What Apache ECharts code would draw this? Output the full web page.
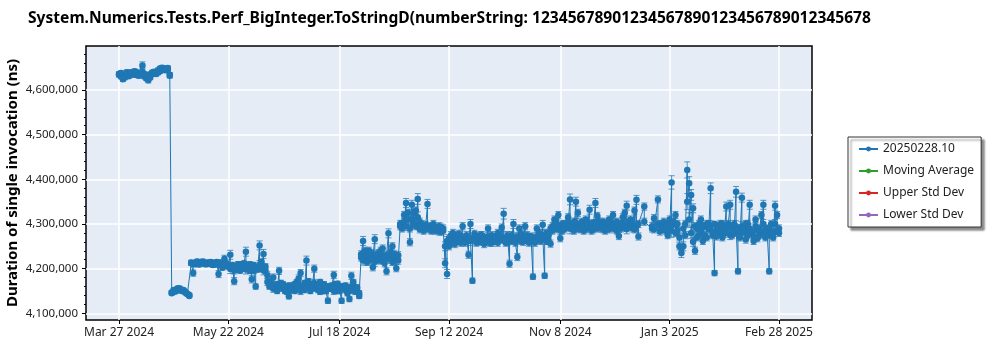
<!DOCTYPE html>
<html><head><meta charset="utf-8">
<script src="https://cdn.jsdelivr.net/npm/echarts@6/dist/echarts.min.js"></script>
<style>html,body{margin:0;padding:0;background:#fff}#chart{width:1000px;height:350px}</style>
</head><body><div id="chart"></div>
<script>
const titleText = 'System.Numerics.Tests.Perf_BigInteger.ToStringD(numberString: 12345678901234567890123456789012345678';
const yAxisTitle = 'Duration of single invocation (ns)';
const seriesNames = ['20250228.10', 'Moving Average', 'Upper Std Dev', 'Lower Std Dev'];
const seriesColors = ['#1f77b4', '#2ca02c', '#d62728', '#9467bd'];

const xTickDates = ['2024-03-27', '2024-05-22', '2024-07-18', '2024-09-12', '2024-11-08', '2025-01-03', '2025-02-28'];
const xTickLabels = ['Mar 27 2024', 'May 22 2024', 'Jul 18 2024', 'Sep 12 2024', 'Nov 8 2024', 'Jan 3 2025', 'Feb 28 2025'];
const yTickValues = [4100000, 4200000, 4300000, 4400000, 4500000, 4600000];
const yMinorTickValues = [4120000, 4140000, 4160000, 4180000, 4220000, 4240000, 4260000, 4280000,
  4320000, 4340000, 4360000, 4380000, 4420000, 4440000, 4460000, 4480000,
  4520000, 4540000, 4560000, 4580000, 4620000, 4640000, 4660000, 4680000];
const yRange = [4085000, 4698500];

const dates = [
  '2024-03-27','2024-03-28','2024-03-29','2024-03-30','2024-03-31',
  '2024-04-01','2024-04-02','2024-04-03','2024-04-04','2024-04-05','2024-04-06','2024-04-07','2024-04-08','2024-04-09','2024-04-10',
  '2024-04-11','2024-04-12','2024-04-13','2024-04-14','2024-04-15','2024-04-16','2024-04-17','2024-04-18','2024-04-19','2024-04-20',
  '2024-04-21','2024-04-22','2024-04-23','2024-04-24','2024-04-25','2024-04-26','2024-04-27','2024-04-28','2024-04-29','2024-04-30',
  '2024-05-01','2024-05-02','2024-05-03','2024-05-04','2024-05-05','2024-05-06','2024-05-07','2024-05-08','2024-05-09','2024-05-10',
  '2024-05-11','2024-05-12','2024-05-13','2024-05-14','2024-05-15','2024-05-16','2024-05-17','2024-05-18','2024-05-19','2024-05-20',
  '2024-05-21','2024-05-22','2024-05-23','2024-05-24','2024-05-25','2024-05-26','2024-05-27','2024-05-28','2024-05-29','2024-05-30',
  '2024-05-31',
  '2024-06-01','2024-06-02','2024-06-03','2024-06-04','2024-06-05','2024-06-06','2024-06-07','2024-06-08','2024-06-09','2024-06-10',
  '2024-06-11','2024-06-12','2024-06-13','2024-06-14','2024-06-15','2024-06-16','2024-06-17','2024-06-18','2024-06-19','2024-06-20',
  '2024-06-21','2024-06-22','2024-06-23','2024-06-24','2024-06-25','2024-06-26','2024-06-27','2024-06-28','2024-06-29','2024-06-30',
  '2024-07-01','2024-07-02','2024-07-03','2024-07-04','2024-07-05','2024-07-06','2024-07-07','2024-07-08','2024-07-09','2024-07-10',
  '2024-07-11','2024-07-12','2024-07-13','2024-07-14','2024-07-15','2024-07-16','2024-07-17','2024-07-18','2024-07-19','2024-07-20',
  '2024-07-21','2024-07-22','2024-07-23','2024-07-24','2024-07-25','2024-07-26','2024-07-27','2024-07-28','2024-07-29','2024-07-30',
  '2024-07-31',
  '2024-08-01','2024-08-02','2024-08-03','2024-08-04','2024-08-05','2024-08-06','2024-08-07','2024-08-08','2024-08-09','2024-08-10',
  '2024-08-11','2024-08-12','2024-08-13','2024-08-14','2024-08-15','2024-08-16','2024-08-17','2024-08-18','2024-08-19','2024-08-20',
  '2024-08-21','2024-08-22','2024-08-23','2024-08-24','2024-08-25','2024-08-26','2024-08-27','2024-08-28','2024-08-29','2024-08-30',
  '2024-08-31',
  '2024-09-01','2024-09-02','2024-09-03','2024-09-04','2024-09-05','2024-09-06','2024-09-07','2024-09-08','2024-09-09','2024-09-10',
  '2024-09-11','2024-09-12','2024-09-13','2024-09-14','2024-09-15','2024-09-16','2024-09-17','2024-09-18','2024-09-19','2024-09-20',
  '2024-09-21','2024-09-22','2024-09-23','2024-09-24','2024-09-25','2024-09-26','2024-09-27','2024-09-28','2024-09-29','2024-09-30',
  '2024-10-01','2024-10-02','2024-10-03','2024-10-04','2024-10-05','2024-10-06','2024-10-07','2024-10-08','2024-10-09','2024-10-10',
  '2024-10-11','2024-10-12','2024-10-13','2024-10-14','2024-10-15','2024-10-16','2024-10-17','2024-10-18','2024-10-19','2024-10-20',
  '2024-10-21','2024-10-22','2024-10-23','2024-10-24','2024-10-25','2024-10-26','2024-10-27','2024-10-28','2024-10-29','2024-10-30',
  '2024-10-31',
  '2024-11-01','2024-11-02','2024-11-03','2024-11-04','2024-11-05','2024-11-06','2024-11-07','2024-11-08','2024-11-09','2024-11-10',
  '2024-11-11','2024-11-12','2024-11-13','2024-11-14','2024-11-15','2024-11-16','2024-11-17','2024-11-18','2024-11-19','2024-11-20',
  '2024-11-21','2024-11-22','2024-11-23','2024-11-24','2024-11-25','2024-11-26','2024-11-27','2024-11-28','2024-11-29','2024-11-30',
  '2024-12-01','2024-12-02','2024-12-03','2024-12-04','2024-12-05','2024-12-06','2024-12-07','2024-12-08','2024-12-09','2024-12-10',
  '2024-12-11','2024-12-12','2024-12-13','2024-12-14','2024-12-15','2024-12-16','2024-12-17','2024-12-18',
  '2024-12-21','2024-12-25','2024-12-26','2024-12-28','2024-12-29','2024-12-30','2024-12-31',
  '2025-01-01','2025-01-02','2025-01-03','2025-01-04','2025-01-05','2025-01-06','2025-01-07','2025-01-08','2025-01-09','2025-01-10',
  '2025-01-11','2025-01-12','2025-01-13','2025-01-14','2025-01-15','2025-01-16','2025-01-17','2025-01-18','2025-01-19','2025-01-20',
  '2025-01-21','2025-01-22','2025-01-23','2025-01-24','2025-01-25','2025-01-26','2025-01-27','2025-01-28','2025-01-29','2025-01-30',
  '2025-01-31',
  '2025-02-01','2025-02-02','2025-02-03','2025-02-04','2025-02-05','2025-02-06','2025-02-07','2025-02-08','2025-02-09','2025-02-10',
  '2025-02-11','2025-02-12','2025-02-13','2025-02-14','2025-02-15','2025-02-16','2025-02-17','2025-02-18','2025-02-19','2025-02-20',
  '2025-02-21','2025-02-22','2025-02-23','2025-02-24','2025-02-25','2025-02-26','2025-02-27','2025-02-28'
];

// first run of each day: mean duration of one invocation, in thousands of ns
const durationsK = [
  4636,4630,4624,4632,4636,
  4638,4634,4640,4642,4635,4632,4638,4655,4630,4626, 4622,4635,4636,4637,4640,4644,4648,4646,4645,4647, 4646,4634,4145,4148,4151,4154,4156,4153,4150,4148,
  4143,4141,4212,4190,4213,4214,4212,4215,4214,4212, 4210,4214,4212,4208,4212,4215,4188,4210,4205,4222, 4208,4206,4231,4200,4172,4205,4198,4203,4210,4200, 4238,
  4206,4195,4176,4208,4160,4202,4252,4215,4233,4195, 4185,4170,4162,4180,4158,4165,4195,4160,4165,4150, 4155,4138,4158,4162,4150,4170,4178,4190,4160,4168,
  4218,4172,4155,4165,4200,4160,4152,4170,4162,4150, 4158,4128,4160,4155,4186,4165,4150,4158,4128,4160, 4152,4145,4132,4184,4170,4155,4150,4139,4225,4262, 4230,
  4215,4240,4222,4203,4266,4228,4235,4218,4245,4225, 4194,4279,4230,4250,4222,4201,4230,4295,4300,4320, 4347,4310,4259,4343,4325,4330,4356,4305,4300,4290, 4298,
  4345,4292,4288,4295,4285,4290,4283,4292,4285,4212, 4188,4250,4262,4280,4255,4270,4265,4258,4295,4262, 4270,4231,4300,4173,4265,4272,4260,4275,4262,4255,
  4268,4290,4265,4258,4270,4262,4280,4268,4292,4323, 4265,4260,4211,4275,4300,4268,4226,4290,4262,4270, 4295,4265,4258,4272,4182,4268,4290,4265,4270,4298, 4184,
  4262,4275,4256,4295,4310,4290,4320,4268,4300,4288, 4295,4315,4355,4292,4305,4350,4325,4290,4298,4285, 4310,4295,4332,4300,4288,4347,4318,4295,4290,4305,
  4285,4298,4310,4292,4320,4300,4285,4273,4300,4315, 4325,4341,4295,4310,4290,4330,4354,4272, 4339,4290,4313,4355,4283,4300,4292,
  4295,4275,4310,4393,4300,4320,4285,4270,4235,4250, 4300,4421,4391,4365,4335,4240,4290,4275,4310,4262, 4295,4270,4300,4380,4275,4190,4280,4285,4300,4270, 4290,
  4339,4295,4343,4275,4300,4372,4194,4280,4359,4290, 4265,4300,4343,4282,4262,4310,4285,4275,4320,4343, 4270,4290,4194,4300,4280,4341,4320,4280
];

// second run of each day, in thousands of ns
const durations2K = [
  4634,4638,4633,4628,4640,
  4631,4639,4636,4634,4640,4637,4633,4641,4636,4633, 4630,4628,4639,4641,4636,4639,4642,4650,4648,4644, 4649,4632,4147,4152,4149,4156,4153,4150,4152,4146,
  4144,4139,4214,4211,4210,4216,4209,4213,4216,4210, 4213,4211,4215,4212,4209,4213,4211,4214,4202,4209, 4212,4204,4199,4208,4196,4200,4210,4195,4204,4212, 4198,
  4200,4210,4205,4195,4203,4198,4208,4200,4196,4205, 4170,4160,4168,4155,4163,4150,4162,4168,4155,4160, 4148,4162,4152,4158,4165,4155,4162,4150,4158,4152,
  4160,4165,4150,4158,4168,4155,4162,4148,4158,4165, 4150,4160,4155,4162,4150,4158,4166,4150,4160,4155, 4162,4150,4158,4152,4160,4148,4158,4145,4232,4218, 4240,
  4228,4218,4235,4225,4215,4232,4220,4240,4228,4212, 4230,4222,4238,4215,4232,4226,4218,4300,4290,4305, 4295,4325,4290,4310,4300,4295,4315,4288,4295,4285, 4292,
  4290,4295,4285,4300,4292,4288,4295,4283,4290,4250, 4262,4268,4275,4258,4270,4262,4278,4265,4270,4258, 4275,4265,4262,4268,4278,4258,4270,4262,4275,4268,
  4260,4272,4258,4275,4262,4270,4258,4275,4265,4270, 4258,4275,4268,4262,4270,4258,4272,4265,4278,4260, 4268,4275,4262,4270,4265,4258,4272,4280,4262,4275, 4268,
  4280,4262,4290,4285,4298,4302,4288,4295,4285,4300, 4292,4302,4290,4298,4285,4302,4292,4288,4305,4295, 4288,4300,4292,4285,4302,4295,4290,4305,4298,4288,
  4300,4290,4288,4302,4295,4288,4305,4295,4290,4300, 4292,4288,4305,4295,4300,4288,4295,4300, 4305,4295,4288,4300,4295,4288,4305,
  4285,4300,4290,4285,4305,4280,4300,4250,4245,4290, 4275,4350,4310,4280,4260,4295,4270,4300,4285,4295, 4275,4300,4288,4295,4282,4300,4272,4295,4280,4300, 4278,
  4285,4300,4275,4292,4280,4295,4285,4270,4295,4282, 4300,4275,4290,4280,4272,4295,4268,4290,4280,4300, 4285,4275,4290,4280,4270,4300,4285,4290
];

// half-width of the error bar of each day, in thousands of ns
const errorsK = [
  5,5,5,5,5,
  5,5,5,5,5,5,5,8,5,5, 6,5,5,5,5,5,5,5,5,5, 5,5,4,4,4,4,4,4,4,4,
  4,4,5,7,5,5,5,5,5,5, 5,5,5,5,5,5,8,5,5,8, 5,5,10,6,8,5,6,5,6,5, 10,
  6,6,8,6,6,6,10,6,10,6, 8,6,6,8,6,6,8,6,6,6, 6,6,6,6,6,6,8,8,6,6,
  10,6,6,6,8,6,6,6,6,6, 6,6,6,6,8,6,6,6,6,6, 6,6,6,8,6,6,6,6,8,10, 8,
  8,8,8,8,10,8,8,8,8,8, 8,10,8,8,8,8,8,8,8,8, 10,8,8,10,8,8,12,8,8,8, 8,
  10,8,8,8,8,8,8,8,8,10, 10,8,8,8,8,8,8,8,8,8, 8,8,10,6,8,8,8,8,8,8,
  8,8,8,8,8,8,8,8,8,12, 8,8,8,8,10,8,8,8,8,8, 8,8,8,8,6,8,8,8,8,10, 6,
  8,8,8,8,8,8,8,8,8,8, 8,8,12,8,8,10,8,8,8,8, 8,8,10,8,8,10,8,8,8,8,
  8,8,8,8,8,8,8,8,8,8, 8,10,8,8,8,8,10,8, 8,8,8,8,8,8,8,
  8,8,8,15,8,8,8,8,10,10, 8,18,15,12,10,8,8,8,8,8, 8,8,8,12,8,6,8,8,8,8, 8,
  10,8,10,8,8,12,6,8,10,8, 8,8,10,8,8,8,8,8,8,10, 8,8,6,8,8,10,8,8
];

function parseLocal(s) { const p = s.split('-').map(Number); return new Date(p[0], p[1] - 1, p[2]).getTime(); }

if (dates.length !== durationsK.length || dates.length !== errorsK.length || dates.length !== durations2K.length)
  console.error('length mismatch', dates.length, durationsK.length, durations2K.length, errorsK.length);

const times = dates.map(parseLocal);
const points = [], bars = [];
times.forEach((t, i) => {
  [durationsK[i], durations2K[i]].forEach(v => {
    points.push([t, v * 1000]);
    bars.push([t, (v - errorsK[i]) * 1000, (v + errorsK[i]) * 1000]);
  });
});
const tFirst = times[0], tLast = times[times.length - 1];
const pad = (tLast - tFirst) * 0.05;
const xTickTimes = xTickDates.map(parseLocal);

const chart = echarts.init(document.getElementById('chart'), null, { renderer: 'canvas' });
const font = 'Noto Sans';
chart.setOption({
  animation: false,
  backgroundColor: '#ffffff',
  textStyle: { fontFamily: font },
  title: {
    text: titleText, left: 23, top: 6,
    textStyle: { fontFamily: font, fontSize: 15.6, fontWeight: 'bold', color: '#000' }
  },
  legend: {
    data: seriesNames, orient: 'vertical', left: 848, top: 137,
    itemWidth: 19, itemHeight: 6, itemGap: 10,
    padding: [6, 7, 6, 10],
    backgroundColor: '#ffffff', borderColor: '#333', borderWidth: 1, borderRadius: 0,
    shadowColor: 'rgba(0,0,0,0.45)', shadowBlur: 2, shadowOffsetX: 3, shadowOffsetY: 3,
    textStyle: { fontFamily: font, fontSize: 12, color: '#222' }
  },
  grid: {
    left: 86, right: 188, top: 46, bottom: 30, outerBoundsMode: 'none', containLabel: false,
    show: true, backgroundColor: '#e5ecf6', borderColor: '#000', borderWidth: 1.5
  },
  xAxis: {
    type: 'value', min: tFirst - pad, max: tLast + pad,
    axisLine: { show: false },
    axisTick: { show: true, customValues: xTickTimes, length: 4, lineStyle: { color: '#000' } },
    axisLabel: {
      customValues: xTickTimes, fontSize: 12, color: '#222', margin: 7, fontFamily: font,
      formatter: v => { const i = xTickTimes.indexOf(v); return i >= 0 ? xTickLabels[i] : ''; }
    },
    splitLine: { show: true, lineStyle: { color: '#ffffff', width: 1.5 } }
  },
  yAxis: [{
    type: 'value', min: yRange[0], max: yRange[1],
    name: yAxisTitle, nameLocation: 'middle', nameGap: 65.5, nameRotate: 90, nameMoveOverlap: false,
    nameTextStyle: { fontFamily: font, fontSize: 15, fontWeight: 'bold', color: '#000' },
    axisLine: { show: false },
    axisTick: { show: true, customValues: yTickValues, length: 4, lineStyle: { color: '#000' } },
    axisLabel: { customValues: yTickValues, fontSize: 11.5, color: '#222', margin: 8, fontFamily: font,
      formatter: v => v.toLocaleString('en-US') },
    splitLine: { show: true, lineStyle: { color: '#ffffff', width: 1.5 } }
  }, {
    type: 'value', min: yRange[0], max: yRange[1], position: 'left', offset: 0,
    axisLine: { show: false }, axisLabel: { show: false }, splitLine: { show: false },
    axisTick: { show: true, customValues: yMinorTickValues, length: 2, lineStyle: { color: '#000' } }
  }],
  series: [
    {
      name: 'errorbars', type: 'custom', data: bars, z: 2, silent: true,
      encode: { x: 0, y: [1, 2] },
      renderItem: (params, api) => {
        const x = api.value(0);
        const lo = api.coord([x, api.value(1)]);
        const hi = api.coord([x, api.value(2)]);
        const hw = 3;
        const st = { stroke: seriesColors[0], lineWidth: 1, opacity: 0.75 };
        return { type: 'group', children: [
          { type: 'line', shape: { x1: lo[0], y1: lo[1], x2: hi[0], y2: hi[1] }, style: st },
          { type: 'line', shape: { x1: lo[0] - hw, y1: lo[1], x2: lo[0] + hw, y2: lo[1] }, style: st },
          { type: 'line', shape: { x1: hi[0] - hw, y1: hi[1], x2: hi[0] + hw, y2: hi[1] }, style: st }
        ] };
      }
    },
    {
      name: seriesNames[0], type: 'line', data: points, z: 3,
      symbol: 'circle', symbolSize: 6.5, showAllSymbol: true,
      itemStyle: { color: seriesColors[0] },
      lineStyle: { color: seriesColors[0], width: 1 }
    },
    { name: seriesNames[1], type: 'line', data: [], symbol: 'circle', itemStyle: { color: seriesColors[1] }, lineStyle: { color: seriesColors[1], width: 1 } },
    { name: seriesNames[2], type: 'line', data: [], symbol: 'circle', itemStyle: { color: seriesColors[2] }, lineStyle: { color: seriesColors[2], width: 1 } },
    { name: seriesNames[3], type: 'line', data: [], symbol: 'circle', itemStyle: { color: seriesColors[3] }, lineStyle: { color: seriesColors[3], width: 1 } }
  ]
});
</script></body></html>
